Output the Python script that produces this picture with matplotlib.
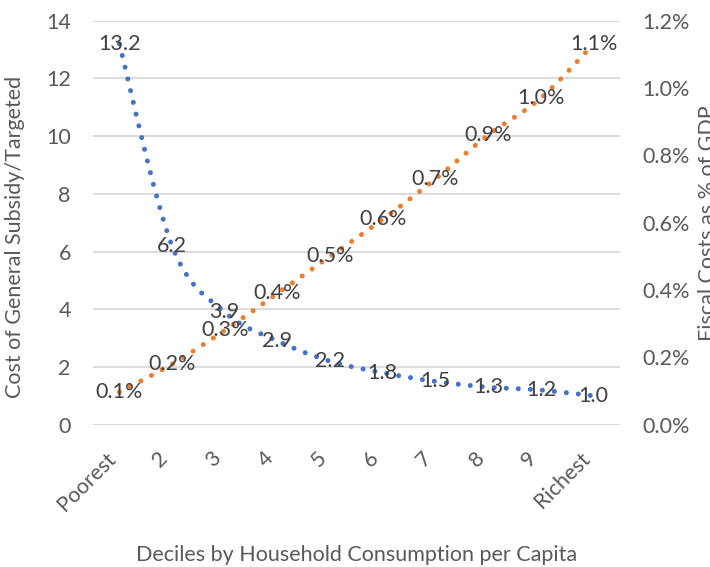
import matplotlib
matplotlib.use("Agg")
import matplotlib.pyplot as plt
import matplotlib.transforms as mtransforms
from matplotlib.path import Path
from matplotlib.patches import PathPatch
import numpy as np

deciles = ["Poorest", "2", "3", "4", "5", "6", "7", "8", "9", "Richest"]
subsidy_cost = [13.2, 6.2, 3.9, 2.9, 2.2, 1.8, 1.5, 1.3, 1.2, 1.0]
fiscal_cost_pct = [0.097, 0.18, 0.28, 0.39, 0.50, 0.61, 0.73, 0.86, 0.97, 1.13]

BLUE = "#4472C4"
ORANGE = "#ED7D31"
TEXT = "#595959"
LABEL = "#404040"
GRID = "#D9D9D9"

plt.rcParams["font.family"] = ["Lato", "DejaVu Sans"]


def smooth_path(xs, ys):
    ''' Bezier path through the points, Catmull-Rom style control points '''
    pts = np.column_stack([xs, ys]).astype(float)
    padded = np.vstack([pts[0], pts, pts[-1]])
    verts = [pts[0]]
    codes = [Path.MOVETO]
    for i in range(len(pts) - 1):
        p0, p1, p2, p3 = padded[i], padded[i + 1], padded[i + 2], padded[i + 3]
        c1 = p1 + (p2 - p0) / 6
        c2 = p2 - (p3 - p1) / 6
        verts += [c1, c2, p2]
        codes += [Path.CURVE4] * 3
    return Path(verts, codes)


def dotted_curve(ax, xs, ys, color):
    patch = PathPatch(smooth_path(xs, ys), facecolor="none", edgecolor=color,
                      linewidth=3.6, linestyle=(0, (0.01, 2.4)),
                      capstyle="round", transform=ax.transData, zorder=3)
    ax.add_patch(patch)


fig = plt.figure(figsize=(7.1, 5.67), dpi=100)
ax = fig.add_axes([0.131, 0.251, 0.742, 0.7125])
ax2 = ax.twinx()

xpos = np.arange(len(deciles))

dotted_curve(ax, xpos, subsidy_cost, BLUE)
dotted_curve(ax2, xpos, fiscal_cost_pct, ORANGE)

for x, v in zip(xpos, subsidy_cost):
    ax.text(x, v, f"{v:.1f}", ha="center", va="center", fontsize=15.5,
            color=LABEL, zorder=4)
for x, v in zip(xpos, fiscal_cost_pct):
    ax2.text(x, v, f"{v:.1f}%", ha="center", va="center", fontsize=15.5,
             color=LABEL, zorder=4)

ax.set_xlim(-0.5, len(deciles) - 0.5)
ax.set_ylim(0, 14)
ax.set_yticks(np.arange(0, 15, 2))
ax2.set_ylim(0, 1.2)
ax2.set_yticks(np.arange(0, 1.21, 0.2))
ax2.set_yticklabels([f"{t:.1f}%" for t in np.arange(0, 1.21, 0.2)])

ax.set_xticks(xpos)
ax.set_xticklabels(deciles, rotation=45, ha="right")
# nudge the slanted category names a little to the right
shift = mtransforms.ScaledTranslation(0.05, 0, fig.dpi_scale_trans)
for lbl in ax.get_xticklabels():
    lbl.set_transform(lbl.get_transform() + shift)

ax.grid(axis="y", color=GRID, linewidth=1.3)
ax.set_axisbelow(True)
for a in (ax, ax2):
    for s in a.spines.values():
        s.set_visible(False)
    a.tick_params(length=0, labelsize=15.5, labelcolor=TEXT)
ax.tick_params(axis="y", pad=16)
ax2.tick_params(axis="y", pad=16)
ax.tick_params(axis="x", pad=17)

ax.set_ylabel("Cost of General Subsidy/Targeted", fontsize=15.5, color=TEXT)
ax.yaxis.set_label_coords(-0.129, 0.464)
ax2.set_ylabel("Fiscal Costs as % of GDP", fontsize=15.5, color=TEXT,
               labelpad=6)
ax.set_xlabel("Deciles by Household Consumption per Capita", fontsize=15.5,
              color=TEXT, labelpad=22)

fig.savefig("out.png", dpi=100)
